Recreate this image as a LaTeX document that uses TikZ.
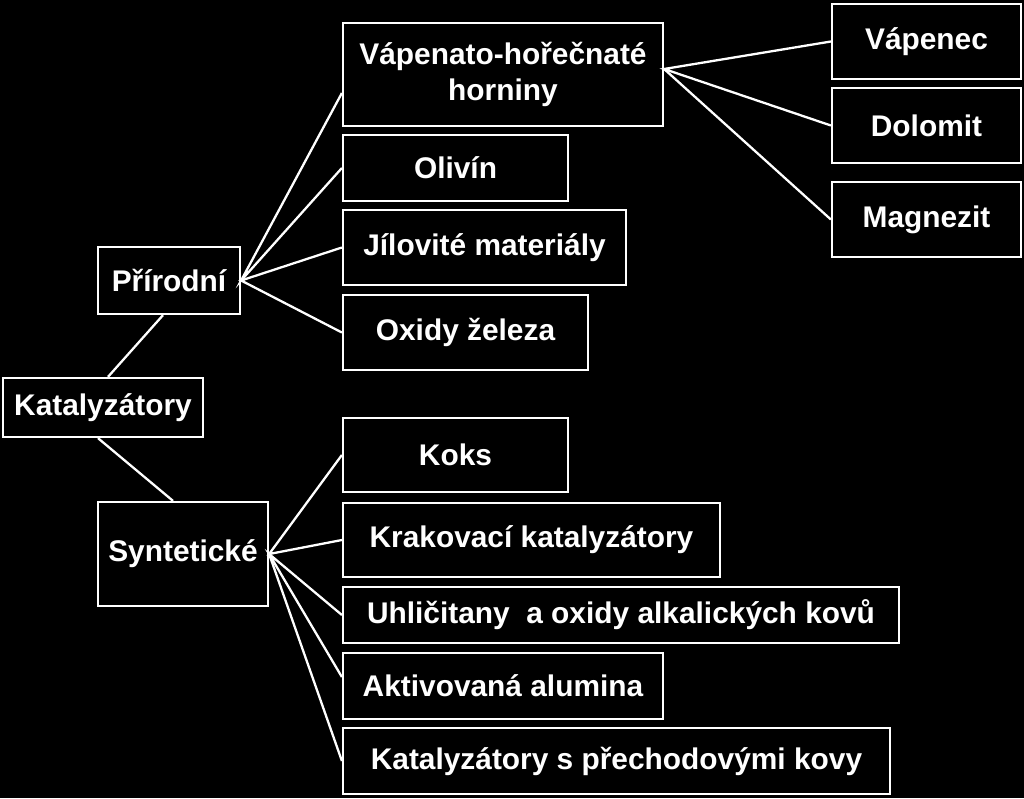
\documentclass[tikz,border=0pt]{standalone}
\usepackage{fontspec}
\setmainfont{Liberation Sans}
\usepackage{tikz}
\usetikzlibrary{positioning}
\tikzstyle{catNode} = [rectangle, draw=white, line width=1.3pt, text=white, inner sep=0pt, align=center, font=\fontsize{17pt}{20pt}\selectfont\bfseries]
\tikzstyle{link} = [draw=white, line width=1.3pt]

\begin{document}
\begin{tikzpicture}[x=0.02cm, y=-0.02cm]
    \fill[black] (0,0) rectangle (1024,798);
    \useasboundingbox (0,0) rectangle (1024,798);

    \node (kat) [catNode, minimum width=4cm, minimum height=1.18cm] at (103,407.5) {Katalyzátory};
    \node (pri) [catNode, minimum width=2.84cm, minimum height=1.34cm] at (169,280.5) {Přírodní};
    \node (syn) [catNode, minimum width=3.4cm, minimum height=2.08cm] at (183,554) {Syntetické};

    % prirodni
    \node (vap) [catNode, minimum width=6.4cm, minimum height=2.06cm] at (503,74.5) {Vápenato-hořečnaté\\horniny};
    \node (oli) [catNode, minimum width=4.5cm, minimum height=1.32cm] at (455.5,168) {Olivín};
    \node (jil) [catNode, minimum width=5.66cm, minimum height=1.5cm] at (484.5,247.5) {Jílovité materiály};
    \node (oxi) [catNode, minimum width=4.9cm, minimum height=1.5cm] at (465.5,332.5) {Oxidy železa};

    \node (vpn) [catNode, minimum width=3.78cm, minimum height=1.5cm] at (926.5,41.5) {Vápenec};
    \node (dol) [catNode, minimum width=3.78cm, minimum height=1.5cm] at (926.5,125.5) {Dolomit};
    \node (mag) [catNode, minimum width=3.78cm, minimum height=1.5cm] at (926.5,219.5) {Magnezit};

    % synteticke
    \node (kok) [catNode, minimum width=4.5cm, minimum height=1.48cm] at (455.5,455) {Koks};
    \node (kra) [catNode, minimum width=7.54cm, minimum height=1.48cm] at (531.5,540) {Krakovací katalyzátory};
    \node (uhl) [catNode, minimum width=11.12cm, minimum height=1.12cm] at (621,615) {Uhličitany\ \ a oxidy alkalických kovů};
    \node (akt) [catNode, minimum width=6.4cm, minimum height=1.32cm] at (503,686) {Aktivovaná alumina};
    \node (kps) [catNode, minimum width=10.94cm, minimum height=1.32cm] at (616.5,761) {Katalyzátory s přechodovými kovy};

    \draw [link] ([xshift=0.1cm]kat.north) -- ([xshift=-0.12cm]pri.south);
    \draw [link] ([xshift=-0.1cm]kat.south) -- ([xshift=-0.2cm]syn.north);

    \draw [link] ([yshift=-0.37cm]vap.west) -- (pri.east) -- (oli.west);
    \draw [link] (jil.west) -- (pri.east) -- (oxi.west);

    \draw [link] (vpn.west) -- ([yshift=0.11cm]vap.east) -- (dol.west);
    \draw [link] ([yshift=0.11cm]vap.east) -- (mag.west);

    \draw [link] (kok.west) -- (syn.east) -- (kra.west);
    \draw [link] (uhl.west) -- (syn.east) -- ([yshift=0.18cm]akt.west);
    \draw [link] (syn.east) -- (kps.west);
\end{tikzpicture}
\end{document}
